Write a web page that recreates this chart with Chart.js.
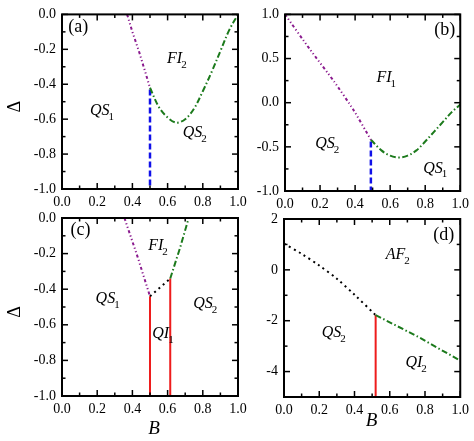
<!DOCTYPE html>
<html><head><meta charset="utf-8">
<script src="https://cdn.jsdelivr.net/npm/chart.js@4.4.1/dist/chart.umd.min.js"></script>
<style>
html,body{margin:0;padding:0;background:#fff;}
#wrap{position:relative;width:474px;height:441px;overflow:hidden;}
canvas{position:absolute;left:0;top:0;}
</style></head><body>
<div id="wrap">
<canvas id="pa" width="474" height="441"></canvas>
<canvas id="pb" width="474" height="441"></canvas>
<canvas id="pc" width="474" height="441"></canvas>
<canvas id="pd" width="474" height="441"></canvas>
</div>
<script>
// ---- tick labels ----
const xTicks = [0, 0.2, 0.4, 0.6, 0.8, 1.0];
const xMinor = [0.1, 0.3, 0.5, 0.7, 0.9];
const aYTicks = [-1.0, -0.8, -0.6, -0.4, -0.2, 0.0];
const aYMinor = [-0.9, -0.7, -0.5, -0.3, -0.1];
const bYTicks = [-1.0, -0.5, 0.0, 0.5, 1.0];
const bYMinor = [-0.75, -0.25, 0.25, 0.75];
const cYTicks = [-1.0, -0.8, -0.6, -0.4, -0.2, 0.0];
const cYMinor = [-0.9, -0.7, -0.5, -0.3, -0.1];
const dYTicks = [-4, -2, 0, 2];
const dYMinor = [-3, -1, 1];

// ---- panel (a) ----
const aPurpleB = [0.37, 0.40, 0.44, 0.47, 0.50];
const aPurpleD = [0.00, -0.10, -0.22, -0.32, -0.42];
const aGreenB = [0.50, 0.55, 0.60, 0.65, 0.70, 0.75, 0.80, 0.85, 0.90, 0.95, 1.00];
const aGreenD = [-0.42, -0.53, -0.59, -0.62, -0.60, -0.54, -0.44, -0.33, -0.21, -0.09, 0.00];
const aBlueB = [0.50, 0.50];
const aBlueD = [-0.43, -1.00];

// ---- panel (b) ----
const bPurpleB = [0.00, 0.14, 0.28, 0.39, 0.49];
const bPurpleD = [1.00, 0.61, 0.24, -0.08, -0.42];
const bGreenB = [0.49, 0.55, 0.60, 0.65, 0.70, 0.75, 0.80, 0.85, 0.90, 0.95, 1.00];
const bGreenD = [-0.42, -0.54, -0.60, -0.62, -0.60, -0.54, -0.44, -0.33, -0.22, -0.11, -0.02];
const bBlueB = [0.49, 0.49];
const bBlueD = [-0.44, -1.00];

// ---- panel (c) ----
const cPurpleB = [0.355, 0.43, 0.50];
const cPurpleD = [0.00, -0.22, -0.44];
const cBlackB = [0.50, 0.615];
const cBlackD = [-0.44, -0.34];
const cGreenB = [0.615, 0.67, 0.72];
const cGreenD = [-0.34, -0.17, 0.00];
const cRed1B = [0.50, 0.50];
const cRed1D = [-0.44, -1.00];
const cRed2B = [0.615, 0.615];
const cRed2D = [-0.34, -1.00];

// ---- panel (d) ----
const dBlackB = [0.00, 0.10, 0.20, 0.30, 0.40, 0.52];
const dBlackD = [1.03, 0.63, 0.17, -0.35, -0.98, -1.78];
const dGreenB = [0.52, 0.76, 1.00];
const dGreenD = [-1.78, -2.63, -3.57];
const dRedB = [0.52, 0.52];
const dRedD = [-1.78, -5.00];

// ---- region labels (text, subscript, B, Delta) ----
const aLabels = [['(a)', '', 0.036, -0.073], ['FI', '2', 0.597, -0.257], ['QS', '1', 0.159, -0.554], ['QS', '2', 0.686, -0.68]];
const bLabels = [['(b)', '', 0.851, 0.82], ['FI', '1', 0.522, 0.284], ['QS', '2', 0.173, -0.464], ['QS', '1', 0.789, -0.745]];
const cLabels = [['(c)', '', 0.049, -0.071], ['FI', '2', 0.49, -0.156], ['QS', '1', 0.191, -0.455], ['QS', '2', 0.746, -0.483], ['QI', '1', 0.513, -0.652]];
const dLabels = [['(d)', '', 0.847, 1.37], ['AF', '2', 0.577, 0.584], ['QS', '2', 0.214, -2.49], ['QI', '2', 0.689, -3.67]];

const FONT = "'Liberation Serif', 'Times New Roman', serif";
const PURPLE = '#8a1a8e', GREEN = '#1c7a1c', BLUE = '#1010e8', RED = '#ee1c1c', BLACK = '#000';
const DASHDOTDOT = [3, 2.5, 1.2, 2.5, 1.2, 2.5];
const DASHDOT = [6, 2.5, 1.5, 2.5];
const DOTTED = [2, 3.7];
const DASHED = [6, 3];

function pairs(xs, ys) { return xs.map((x, i) => ({ x: x, y: ys[i] })); }
function ds(xs, ys, color, dash, width, tension) {
  return { data: pairs(xs, ys), borderColor: color, borderWidth: width || 2, borderDash: dash,
    pointRadius: 0, fill: false, tension: tension || 0, showLine: true };
}

const framePlugin = {
  id: 'frame',
  afterDraw(chart, args, o) {
    const ctx = chart.ctx, ca = chart.chartArea, x = chart.scales.x, y = chart.scales.y;
    ctx.save();
    ctx.strokeStyle = '#000';
    ctx.lineWidth = 1.5;
    const seg = (x1, y1, x2, y2) => { ctx.beginPath(); ctx.moveTo(x1, y1); ctx.lineTo(x2, y2); ctx.stroke(); };
    const xt = (vals, len) => vals.forEach(v => { const p = x.getPixelForValue(v); seg(p, ca.bottom, p, ca.bottom - len); seg(p, ca.top, p, ca.top + len); });
    const yt = (vals, len) => vals.forEach(v => { const p = y.getPixelForValue(v); seg(ca.left, p, ca.left + len, p); seg(ca.right, p, ca.right - len, p); });
    xt(xTicks, 6); xt(xMinor, 3.5);
    yt(o.yMajor, 6); yt(o.yMinor, 3.5);
    ctx.lineWidth = 2;
    ctx.strokeRect(ca.left, ca.top, ca.right - ca.left, ca.bottom - ca.top);
    // region labels
    ctx.fillStyle = '#000';
    ctx.textBaseline = 'middle';
    ctx.textAlign = 'left';
    o.labels.forEach(l => {
      const px = x.getPixelForValue(l[2]), py = y.getPixelForValue(l[3]);
      if (l[1] === '') {
        ctx.font = '18px ' + FONT;
        ctx.fillText(l[0], px, py);
      } else {
        ctx.font = 'italic 16px ' + FONT;
        ctx.fillText(l[0], px, py);
        const w = ctx.measureText(l[0]).width;
        ctx.font = '11px ' + FONT;
        ctx.fillText(l[1], px + w - 1, py + 6);
      }
    });
    if (o.yTitle) {
      ctx.save();
      ctx.font = '18px ' + FONT;
      ctx.textAlign = 'center';
      ctx.translate(ca.left - 47, (ca.top + ca.bottom) / 2 + 5);
      ctx.rotate(-Math.PI / 2);
      ctx.fillText('Δ', 0, 0);
      ctx.restore();
    }
    if (o.xTitle) {
      ctx.font = 'italic 19px ' + FONT;
      ctx.textAlign = 'center';
      ctx.fillText('B', x.getPixelForValue(o.xTitle[0]), ca.bottom + o.xTitle[1]);
    }
    ctx.restore();
  }
};

function panel(id, area, yMin, yMax, yTicks, yDec, yMinor, datasets, labels, yTitle, xTitle) {
  const YW = 40, XH = 22;
  new Chart(document.getElementById(id), {
    type: 'line',
    data: { datasets: datasets },
    options: {
      responsive: false, animation: false, devicePixelRatio: 1,
      layout: { padding: { left: area[0] - YW, top: area[1], right: 474 - area[2], bottom: 441 - area[3] - XH } },
      plugins: { legend: { display: false }, tooltip: { enabled: false },
        frame: { yMajor: yTicks, yMinor: yMinor, labels: labels, yTitle: yTitle, xTitle: xTitle } },
      scales: {
        x: { type: 'linear', min: 0, max: 1,
          afterBuildTicks: s => { s.ticks = xTicks.map(v => ({ value: v })); },
          afterFit: s => { s.height = XH; },
          grid: { display: false, drawTicks: false }, border: { display: false },
          ticks: { font: { family: FONT, size: 14 }, color: '#000', padding: 5, maxRotation: 0, autoSkip: false,
            callback: v => Number(v).toFixed(1) } },
        y: { type: 'linear', min: yMin, max: yMax,
          afterBuildTicks: s => { s.ticks = yTicks.map(v => ({ value: v })); },
          afterFit: s => { s.width = YW; },
          grid: { display: false, drawTicks: false }, border: { display: false },
          ticks: { font: { family: FONT, size: 14 }, color: '#000', padding: 6, autoSkip: false,
            callback: v => Number(v).toFixed(yDec) } }
      }
    },
    plugins: [framePlugin]
  });
}

panel('pa', [62, 12, 238, 189], -1, 0, aYTicks, 1, aYMinor, [
  ds(aPurpleB, aPurpleD, PURPLE, DASHDOTDOT, 2),
  ds(aGreenB, aGreenD, GREEN, DASHDOT, 2, 0.35),
  ds(aBlueB, aBlueD, BLUE, DASHED, 2.5)
], aLabels, true, null);

panel('pb', [285, 13, 462, 191], -1, 1, bYTicks, 1, bYMinor, [
  ds(bPurpleB, bPurpleD, PURPLE, DASHDOTDOT, 2, 0.2),
  ds(bGreenB, bGreenD, GREEN, DASHDOT, 2, 0.35),
  ds(bBlueB, bBlueD, BLUE, DASHED, 2.5)
], bLabels, false, null);

panel('pc', [62, 218, 238, 396], -1, 0, cYTicks, 1, cYMinor, [
  ds(cPurpleB, cPurpleD, PURPLE, DASHDOTDOT, 2),
  ds(cBlackB, cBlackD, BLACK, DOTTED, 2),
  ds(cGreenB, cGreenD, GREEN, DASHDOT, 2),
  ds(cRed1B, cRed1D, RED, [], 2),
  ds(cRed2B, cRed2D, RED, [], 2)
], cLabels, true, [0.523, 33]);

panel('pd', [284, 219, 463, 397], -5, 2, dYTicks, 0, dYMinor, [
  ds(dBlackB, dBlackD, BLACK, DOTTED, 2, 0.3),
  ds(dGreenB, dGreenD, GREEN, DASHDOT, 2),
  ds(dRedB, dRedD, RED, [], 2)
], dLabels, false, [0.497, 24]);
</script>
</body></html>
